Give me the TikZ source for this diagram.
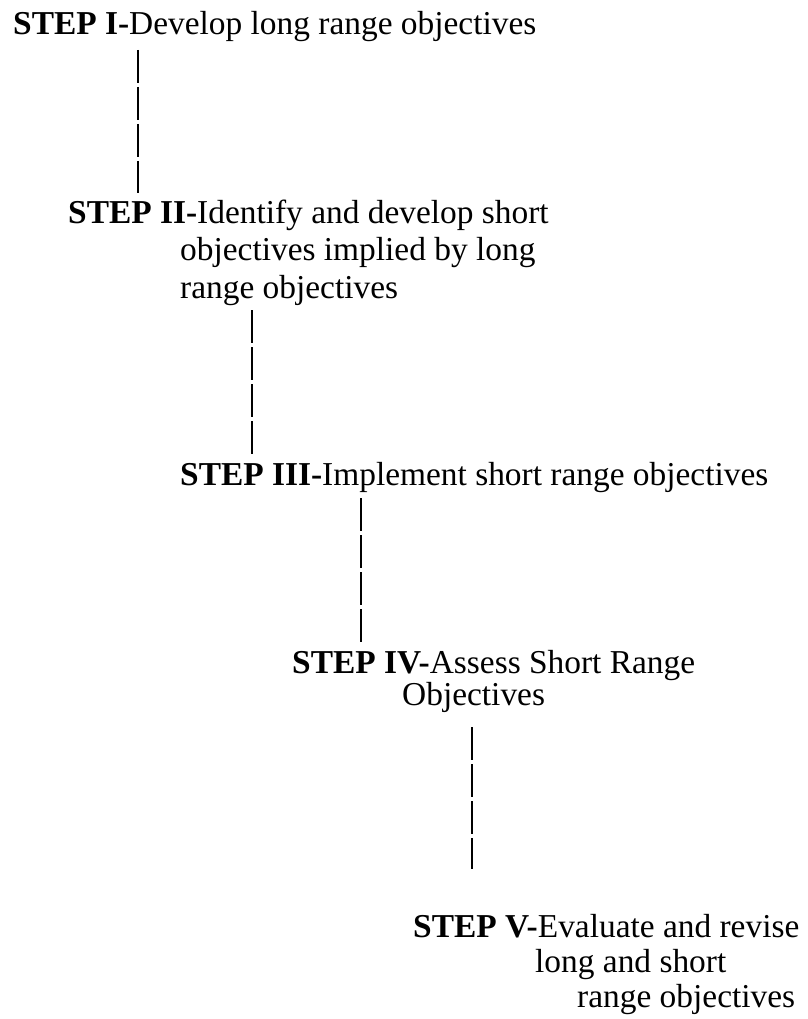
\documentclass[tikz,border=0pt]{standalone}
\usepackage{fontspec}
\setmainfont{Liberation Serif}
\begin{document}
\tikzset{
  steptext/.style={anchor=base west, inner sep=0pt, font=\fontsize{33.4}{37}\selectfont},
  link/.style={line width=2.6pt, dash pattern=on 33pt off 4pt}
}
\begin{tikzpicture}[x=1pt,y=-1pt]
\fill[white] (0,0) rectangle (807,1019);
\useasboundingbox (0,0) rectangle (807,1019);

\node[steptext] (s1) at (13,35) {\textbf{STEP I-}Develop long range objectives};
\node[steptext] (s2) at (68,223) {\vtop{\baselineskip=37.5pt \lineskiplimit=-100pt
  \hbox{\textbf{STEP II-}Identify and develop short}
  \hbox{\hspace*{112pt}objectives implied by long}
  \hbox{\hspace*{112pt}range objectives}}};
\node[steptext] (s3) at (180,485) {\textbf{STEP III-}Implement short range objectives};
\node[steptext] (s4) at (292,673) {\vtop{\baselineskip=32pt \lineskiplimit=-100pt
  \hbox{\textbf{STEP IV-}Assess Short Range}
  \hbox{\hspace*{110pt}Objectives}}};
\node[steptext] (s5) at (413,937) {\vtop{\baselineskip=35pt \lineskiplimit=-100pt
  \hbox{\textbf{STEP V-}Evaluate and revise}
  \hbox{\hspace*{122pt}long and short}
  \hbox{\hspace*{164pt}range objectives}}};

\coordinate (c1a) at (138,50);  \coordinate (c1b) at (138,193);
\coordinate (c2a) at (252,310); \coordinate (c2b) at (252,455);
\coordinate (c3a) at (361,498); \coordinate (c3b) at (361,643);
\coordinate (c4a) at (472,727); \coordinate (c4b) at (472,869);

\draw[link] (c1a) -- (c1b);
\draw[link] (c2a) -- (c2b);
\draw[link] (c3a) -- (c3b);
\draw[link] (c4a) -- (c4b);
\end{tikzpicture}
\end{document}
